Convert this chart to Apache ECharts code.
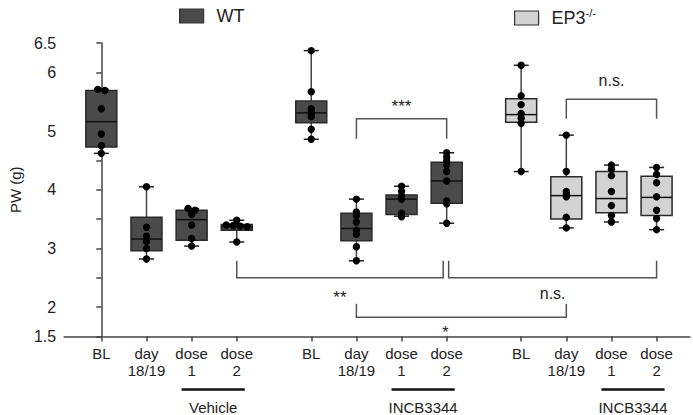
<!DOCTYPE html>
<html><head><meta charset="utf-8">
<script src="https://cdn.jsdelivr.net/npm/echarts@6/dist/echarts.min.js"></script>
<style>html,body{margin:0;padding:0;background:#fff}#c{width:693px;height:415px}</style>
</head><body><div id="c"></div>
<script>
// ---------- data ----------
const timepoints = ['BL', 'day\n18/19', 'dose\n1', 'dose\n2'];
const treatmentLabels = ['Vehicle', 'INCB3344', 'INCB3344'];
const yTickLabels = [1.5, 2, 3, 4, 5, 6, 6.5];

// box stats: [min, q1, median, q3, max]
const wtVehicleBoxes = [
  [4.62, 4.73, 5.16, 5.69, 5.71],
  [2.82, 2.96, 3.16, 3.53, 4.05],
  [3.04, 3.14, 3.49, 3.65, 3.68],
  [3.11, 3.31, 3.37, 3.41, 3.48]
];
const wtIncbBoxes = [
  [4.86, 5.14, 5.31, 5.51, 6.37],
  [2.79, 3.13, 3.34, 3.60, 3.84],
  [3.55, 3.58, 3.84, 3.91, 4.06],
  [3.43, 3.77, 4.15, 4.47, 4.63]
];
const ep3IncbBoxes = [
  [4.31, 5.15, 5.28, 5.55, 6.12],
  [3.35, 3.50, 3.90, 4.22, 4.93],
  [3.45, 3.61, 3.85, 4.31, 4.42],
  [3.32, 3.56, 3.87, 4.23, 4.38]
];

// individual animals
const wtVehiclePoints = [
  [5.71, 5.69, 5.38, 4.95, 4.75, 4.62],
  [4.05, 3.36, 3.21, 3.12, 3.00, 2.82],
  [3.68, 3.65, 3.58, 3.40, 3.17, 3.04],
  [3.48, 3.40, 3.39, 3.38, 3.37, 3.11]
];
const wtIncbPoints = [
  [6.37, 5.67, 5.38, 5.335, 5.29, 5.245, 5.03, 4.86],
  [3.84, 3.62, 3.56, 3.45, 3.31, 3.24, 3.03, 2.79],
  [4.06, 3.97, 3.89, 3.84, 3.60, 3.54],
  [4.63, 4.56, 4.49, 4.42, 4.31, 4.15, 3.81, 3.76, 3.43]
];
const ep3IncbPoints = [
  [6.12, 5.60, 5.45, 5.30, 5.22, 5.13, 4.31],
  [4.93, 4.31, 3.97, 3.93, 3.88, 3.53, 3.35],
  [4.42, 4.35, 4.24, 3.97, 3.73, 3.56, 3.45],
  [4.38, 4.26, 4.12, 3.88, 3.65, 3.51, 3.32]
];

// significance annotations
const brackets = [
  { from: [1, 1], to: [1, 3], bar: 5.21, leg: 4.87, label: '***' },
  { from: [2, 1], to: [2, 3], bar: 5.54, leg: 5.21, label: 'n.s.' },
  { from: [0, 3], to: [1, 3], bar: 2.50, leg: 2.79, label: '**' },
  { from: [1, 3], to: [2, 3], bar: 2.50, leg: 2.79, label: 'n.s.' },
  { from: [1, 1], to: [2, 1], bar: 1.83, leg: 2.06, label: '*' }
];

// ---------- layout / style ----------
const FONT = "'Liberation Sans', Arial, Helvetica, sans-serif";
const GROUP_STEP = 4.65;
const Y_MIN = 1.5, Y_MAX = 6.5;
const WT_COLOR = '#4a4a4a', EP3_COLOR = '#d3d3d3';
const bracketStyle = [
  { labelDy: -12, labelSize: 17 },
  { labelDy: -19, labelSize: 16 },
  { labelDy: 20, labelSize: 17, toDx: -3.5 },
  { labelDy: 16, labelSize: 16, fromDx: 2 },
  { labelDy: 15, labelSize: 16, labelDx: -16 }
];

function pos(g, i) { return g * GROUP_STEP + i; }

const tickPositions = [];
const tickTexts = [];
for (let g = 0; g < 3; g++) for (let i = 0; i < 4; i++) { tickPositions.push(pos(g, i)); tickTexts.push(timepoints[i]); }

const allPoints = [...wtVehiclePoints, ...wtIncbPoints, ...ep3IncbPoints];

const wtData = [
  ...wtVehicleBoxes.map((b, i) => [pos(0, i), ...b, i]),
  ...wtIncbBoxes.map((b, i) => [pos(1, i), ...b, 4 + i])
];
const ep3Data = ep3IncbBoxes.map((b, i) => [pos(2, i), ...b, 8 + i]);

function swarm(ys) {
  const idx = ys.map((y, k) => k).sort((a, b) => ys[a] - ys[b]);
  const off = new Array(ys.length).fill(0);
  let chain = [idx[0]];
  const flush = () => {
    const n = chain.length;
    chain.forEach((k, j) => { off[k] = (j - (n - 1) / 2) * 7; });
  };
  for (let j = 1; j < idx.length; j++) {
    if (Math.abs(ys[idx[j]] - ys[idx[j - 1]]) < 2.2) chain.push(idx[j]);
    else { flush(); chain = [idx[j]]; }
  }
  flush();
  return off;
}

function renderBox(params, api) {
  const x = api.value(0);
  const c = (v) => api.coord([x, v]);
  const cx = c(api.value(1))[0];
  const yMin = c(api.value(1))[1], yQ1 = c(api.value(2))[1], yMed = c(api.value(3))[1],
        yQ3 = c(api.value(4))[1], yMax = c(api.value(5))[1];
  const bw = 31, cw = 15;
  const fill = api.visual('color');
  const ws = { stroke: '#444', lineWidth: 1.5 };
  const children = [
    { type: 'line', shape: { x1: cx, y1: yMin, x2: cx, y2: yQ1 }, style: ws },
    { type: 'line', shape: { x1: cx, y1: yQ3, x2: cx, y2: yMax }, style: ws },
    { type: 'line', shape: { x1: cx - cw / 2, y1: yMin, x2: cx + cw / 2, y2: yMin }, style: { stroke: '#222', lineWidth: 1.5 } },
    { type: 'line', shape: { x1: cx - cw / 2, y1: yMax, x2: cx + cw / 2, y2: yMax }, style: { stroke: '#222', lineWidth: 1.5 } },
    { type: 'rect', shape: { x: cx - bw / 2, y: yQ3, width: bw, height: yQ1 - yQ3 }, style: { fill: fill, stroke: '#2a2a2a', lineWidth: 1.5 } },
    { type: 'line', shape: { x1: cx - bw / 2, y1: yMed, x2: cx + bw / 2, y2: yMed }, style: { stroke: '#111', lineWidth: 1.5 } }
  ];
  const pts = allPoints[api.value(6)];
  const ys = pts.map(v => c(v)[1]);
  const offs = swarm(ys);
  ys.forEach((py, k) => {
    children.push({ type: 'circle', shape: { cx: cx + offs[k], cy: py, r: 3.7 }, style: { fill: '#000' } });
  });
  return { type: 'group', children };
}

function renderAnnotations(params, api) {
  const children = [];
  const base = api.coord([0, Y_MIN])[1];
  for (let g = 0; g < 3; g++) {
    const x1 = api.coord([pos(g, 2), Y_MIN])[0] - 10;
    const x2 = api.coord([pos(g, 3), Y_MIN])[0] + 8;
    children.push({ type: 'line', shape: { x1, y1: base + 53, x2, y2: base + 53 }, style: { stroke: '#111', lineWidth: 2.5 } });
    children.push({ type: 'text', x: (x1 + x2) / 2, y: base + 71,
      style: { text: treatmentLabels[g], fontSize: 15, fontFamily: FONT, fill: '#222', align: 'center', verticalAlign: 'middle' } });
  }
  brackets.forEach((b, k) => {
    const s = bracketStyle[k];
    const xa = api.coord([pos(b.from[0], b.from[1]), b.bar])[0] + (s.fromDx || 0);
    const xb = api.coord([pos(b.to[0], b.to[1]), b.bar])[0] + (s.toDx || 0);
    const yBar = api.coord([0, b.bar])[1];
    const yLeg = api.coord([0, b.leg])[1];
    children.push({ type: 'polyline', shape: { points: [[xa, yLeg], [xa, yBar], [xb, yBar], [xb, yLeg]] },
      style: { stroke: '#555', lineWidth: 1.5, fill: null } });
    children.push({ type: 'text', x: (xa + xb) / 2 + (s.labelDx || 0), y: yBar + s.labelDy,
      style: { text: b.label, fontSize: s.labelSize, fontFamily: FONT, fill: '#222', align: 'center', verticalAlign: 'middle' } });
  });
  return { type: 'group', children };
}

const chart = echarts.init(document.getElementById('c'), null, { renderer: 'svg' });
const legendCommon = {
  top: 2, itemWidth: 24, itemHeight: 14, icon: 'rect', selectedMode: false,
  itemStyle: { borderColor: '#333', borderWidth: 1.2 },
  textStyle: { fontFamily: FONT, fontSize: 18, color: '#222', padding: [0, 0, 0, 8],
    rich: { a: { fontFamily: FONT, fontSize: 18, color: '#222', lineHeight: 22 },
            b: { fontFamily: FONT, fontSize: 11, color: '#222', verticalAlign: 'top', lineHeight: 12 } } }
};
chart.setOption({
  animation: false,
  backgroundColor: '#fff',
  textStyle: { fontFamily: FONT },
  legend: [
    Object.assign({}, legendCommon, { left: 174, data: ['WT'], formatter: '{a|WT}' }),
    Object.assign({}, legendCommon, { left: 509, data: ['EP3'], formatter: '{a|EP3}{b|-/-}' })
  ],
  grid: { left: 51, right: 3, top: 43, bottom: 78.5 },
  xAxis: {
    type: 'value', min: -0.824, max: 13.04,
    splitLine: { show: false },
    axisLine: { show: true, lineStyle: { color: '#444', width: 1.5 } },
    axisTick: { show: true, customValues: tickPositions, length: 5, lineStyle: { color: '#444', width: 1.5 } },
    axisLabel: {
      customValues: tickPositions, margin: 8, fontSize: 15, lineHeight: 17, color: '#222', fontFamily: FONT,
      formatter: (v) => { const k = tickPositions.findIndex(p => Math.abs(p - v) < 1e-6); return k >= 0 ? tickTexts[k] : ''; }
    }
  },
  yAxis: {
    type: 'value', min: Y_MIN, max: Y_MAX, interval: 0.5,
    name: 'PW (g)', nameLocation: 'middle', nameRotate: 90, nameGap: 40,
    nameTextStyle: { fontSize: 15, color: '#222', fontFamily: FONT },
    splitLine: { show: false },
    axisLine: { show: true, lineStyle: { color: '#444', width: 1.5 } },
    axisTick: { show: true, length: 5, lineStyle: { color: '#444', width: 1.5 } },
    axisLabel: {
      margin: 8, fontSize: 16, color: '#222', fontFamily: FONT,
      formatter: (v) => yTickLabels.some(t => Math.abs(t - v) < 1e-6) ? String(v) : ''
    }
  },
  series: [
    { name: 'WT', type: 'custom', renderItem: renderBox, data: wtData, itemStyle: { color: WT_COLOR },
      encode: { x: 0, y: [1, 2, 3, 4, 5] }, silent: true },
    { name: 'EP3', type: 'custom', renderItem: renderBox, data: ep3Data, itemStyle: { color: EP3_COLOR },
      encode: { x: 0, y: [1, 2, 3, 4, 5] }, silent: true },
    { name: 'annotations', type: 'custom', renderItem: renderAnnotations, data: [[0, Y_MIN]],
      encode: { x: 0, y: 1 }, silent: true, clip: false, z: 3 }
  ]
});
</script>
</body></html>
